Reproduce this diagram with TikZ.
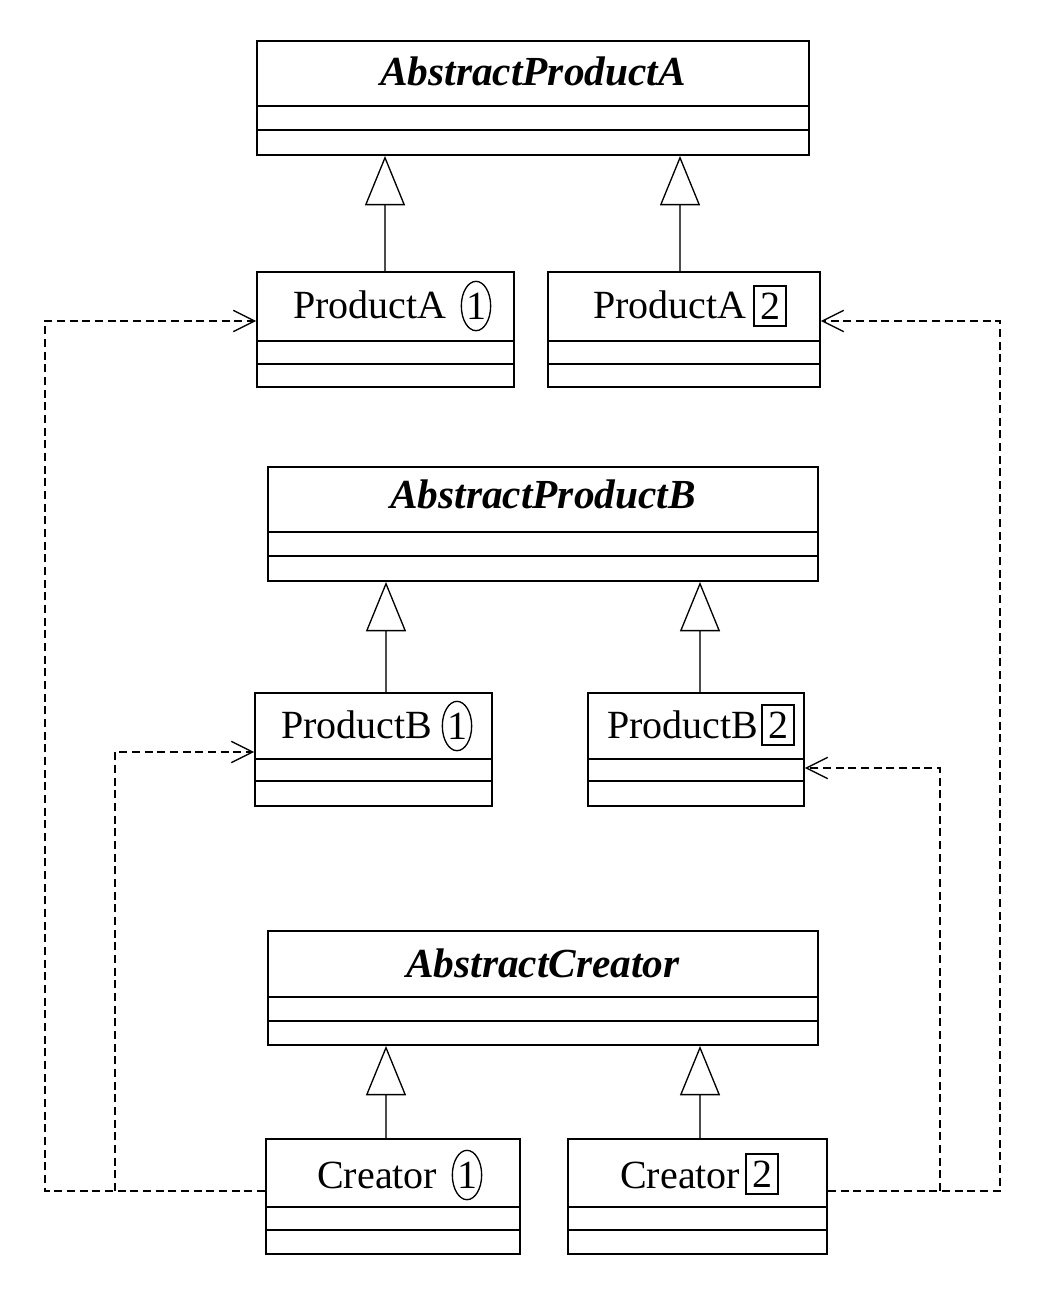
\documentclass[tikz,border=0pt]{standalone}
\usepackage{fontspec}
\setmainfont{Liberation Serif}
\usetikzlibrary{arrows.meta,fit,shapes.geometric}

% class box: name, x1, y1, x2, y2, first divider y, second divider y
\newcommand\umlbox[7]{%
  \node[classbox, fit={(#2,#3) (#4,#5)}] (#1) {};
  \draw[divider] (#1.west |- 0,#6) -- (#1.east |- 0,#6)
                 (#1.west |- 0,#7) -- (#1.east |- 0,#7);
}

\begin{document}
\begin{tikzpicture}[x=0.75pt,y=-0.75pt,
  classbox/.style={draw, rectangle, line width=1.4pt, inner sep=0pt},
  divider/.style={line width=1.4pt},
  abstractname/.style={font=\fontsize{31}{36}\selectfont\bfseries\itshape, inner sep=0pt, anchor=base},
  classname/.style={font=\fontsize{30}{36}\selectfont, inner sep=0pt, anchor=base west},
  oval/.style={draw, ellipse, line width=1pt, inner sep=0pt, minimum width=22pt, minimum height=37pt, font=\fontsize{30}{36}\selectfont},
  sqbox/.style={draw, rectangle, line width=1pt, inner sep=0pt, minimum width=24pt, minimum height=30pt, font=\fontsize{30}{36}\selectfont},
  inherit/.style={draw=black!70, line width=1pt, -{Triangle[open, length=37pt, width=30pt, line width=1pt, color=black]}},
  dep/.style={line width=1.1pt, dash pattern=on 6pt off 3.5pt, -{Straight Barb[length=16pt, width=16pt, line width=1pt]}},
  deplink/.style={line width=1.1pt, dash pattern=on 6pt off 3.5pt},
]
\useasboundingbox (0,0) rectangle (1043,1290);

% classes
\umlbox{absA}{257}{41}{809}{155}{106}{130}
\umlbox{pa1}{257}{272}{514}{387}{341}{364}
\umlbox{pa2}{548}{272}{820}{387}{341}{364}
\umlbox{absB}{268}{467}{818}{581}{532}{556}
\umlbox{pb1}{255}{693}{492}{806}{759}{781}
\umlbox{pb2}{588}{693}{804}{806}{759}{781}
\umlbox{absC}{268}{931}{818}{1045}{997}{1021}
\umlbox{c1}{266}{1139}{520}{1254}{1207}{1230}
\umlbox{c2}{568}{1139}{827}{1254}{1207}{1230}

% class names
\node[abstractname] (absAname) at (533,85) {AbstractProductA};
\node[abstractname] (absBname) at (543,508) {AbstractProductB};
\node[abstractname] (absCname) at (543,977) {AbstractCreator};

\node[classname] (pa1name) at (293,318) {ProductA};
\node[oval] (pa1mark) at (476,306) {1};
\node[classname] (pa2name) at (593,318) {ProductA};
\node[sqbox] (pa2mark) at (770,306) {2};

\node[classname] (pb1name) at (281,738) {ProductB};
\node[oval] (pb1mark) at (457,726) {1};
\node[classname] (pb2name) at (607,738) {ProductB};
\node[sqbox] (pb2mark) at (778,725) {2};

\node[classname] (c1name) at (317,1188) {Creator};
\node[oval] (c1mark) at (467,1175) {1};
\node[classname] (c2name) at (620,1188) {Creator};
\node[sqbox] (c2mark) at (762,1174) {2};

% generalisation
\draw[inherit] (385,0 |- pa1.north) -- (385,0 |- absA.south);
\draw[inherit] (680,0 |- pa2.north) -- (680,0 |- absA.south);
\draw[inherit] (386,0 |- pb1.north) -- (386,0 |- absB.south);
\draw[inherit] (700,0 |- pb2.north) -- (700,0 |- absB.south);
\draw[inherit] (386,0 |- c1.north) -- (386,0 |- absC.south);
\draw[inherit] (700,0 |- c2.north) -- (700,0 |- absC.south);

% dependencies of the creators on their products
\coordinate (j1) at (115,1191);
\coordinate (j2) at (940,1191);
\draw[dep] (c1.west |- 0,1191) -- (45,1191) -- (45,321) -- (pa1.west |- 0,321);
\draw[dep] (j1) -- (115,752) -- (pb1.west |- 0,752);
\draw[dep] (c2.east |- 0,1191) -- (1000,1191) -- (1000,321) -- (pa2.east |- 0,321);
\draw[dep] (j2) -- (940,768) -- (pb2.east |- 0,768);
\end{tikzpicture}
\end{document}
